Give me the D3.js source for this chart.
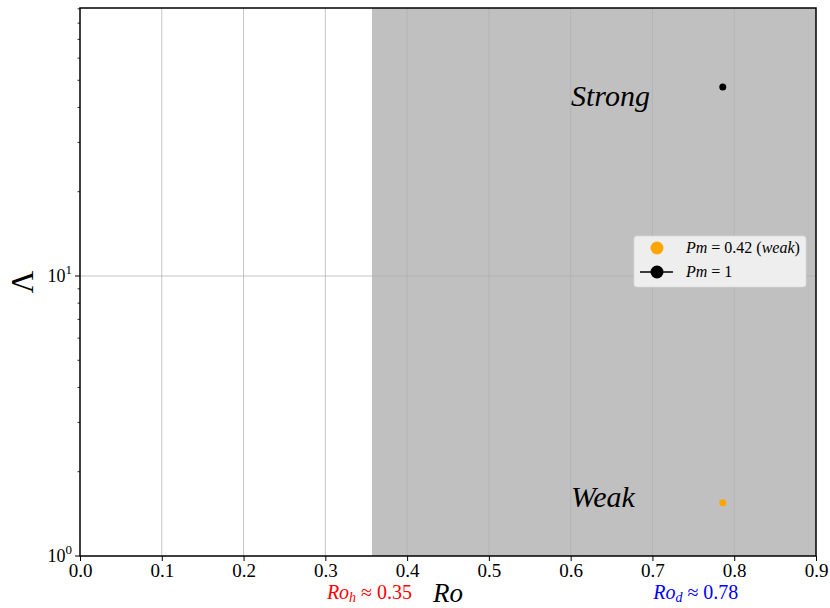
<!DOCTYPE html>
<html>
<head>
<meta charset="utf-8">
<script src="https://cdn.jsdelivr.net/npm/d3@7"></script>
<style>
  body { margin: 0; background: #fff; }
  text { font-family: "Liberation Serif", "DejaVu Serif", serif; }
</style>
</head>
<body>
<script>
// data
const xTicks = [0, 0.1, 0.2, 0.3, 0.4, 0.5, 0.6, 0.7, 0.8, 0.9];
const yMajor = [1, 10];
const yMinor = [2, 3, 4, 5, 6, 7, 8, 9, 20, 30, 40, 50, 60, 70, 80, 90];
const weakRo = [0.786];
const weakLambda = [1.55];
const strongRo = [0.786];
const strongLambda = [47.3];
const shadeFrom = [0.357];
const thresholdNames = ["h", "d"];
const thresholdValues = ["0.35", "0.78"];
const thresholdColors = ["red", "blue"];
const thresholdAt = [0.354, 0.753];

const w = 830, h = 608;
const m = {left: 80, right: 14, top: 8, bottom: 52};

const svg = d3.select("body").append("svg")
  .attr("width", w).attr("height", h);

const xScale = d3.scaleLinear().domain([0, 0.9]).range([m.left, w - m.right]);
const yScale = d3.scaleLog().domain([1, 90.6]).range([h - m.bottom, m.top]);

// shaded region
svg.append("rect")
  .attr("x", xScale(shadeFrom[0]))
  .attr("y", m.top)
  .attr("width", xScale(0.9) - xScale(shadeFrom[0]))
  .attr("height", yScale(1) - m.top)
  .attr("fill", "#c0c0c0");

// grid
svg.append("g").selectAll("line")
  .data(xTicks.slice(1, -1)).enter().append("line")
  .attr("x1", d => xScale(d)).attr("x2", d => xScale(d))
  .attr("y1", m.top).attr("y2", h - m.bottom)
  .attr("stroke", "#b0b0b0").attr("stroke-opacity", 0.8).attr("stroke-width", 0.9);
svg.append("g").selectAll("line")
  .data(yMajor.slice(1)).enter().append("line")
  .attr("x1", m.left).attr("x2", w - m.right)
  .attr("y1", d => yScale(d)).attr("y2", d => yScale(d))
  .attr("stroke", "#b0b0b0").attr("stroke-opacity", 0.8).attr("stroke-width", 0.9);

// axes
const xAxis = d3.axisBottom(xScale).tickValues(xTicks)
  .tickFormat(d3.format(".1f")).tickSize(5).tickPadding(3);
const gx = svg.append("g")
  .attr("transform", "translate(0," + (h - m.bottom) + ")")
  .call(xAxis);
gx.select(".domain").remove();
gx.selectAll("text").attr("font-size", 19).attr("fill", "#000")
  .attr("font-family", "Liberation Serif");
gx.selectAll("line").attr("stroke", "#000").attr("stroke-width", 1);

const gy = svg.append("g").attr("transform", "translate(" + m.left + ",0)");
gy.selectAll(".minor").data(yMinor).enter().append("line")
  .attr("x1", -2.5).attr("x2", 0)
  .attr("y1", d => yScale(d)).attr("y2", d => yScale(d))
  .attr("stroke", "#000").attr("stroke-width", 0.8);
gy.selectAll(".major").data(yMajor).enter().append("line")
  .attr("x1", -5).attr("x2", 0)
  .attr("y1", d => yScale(d)).attr("y2", d => yScale(d))
  .attr("stroke", "#000").attr("stroke-width", 1);
const yl = gy.selectAll(".lab").data(yMajor).enter().append("text")
  .attr("x", -8).attr("y", d => yScale(d) + 6)
  .attr("text-anchor", "end").attr("font-size", 18);
yl.append("tspan").text("10");
yl.append("tspan").attr("dy", -8).attr("font-size", 13)
  .text(d => Math.round(Math.log10(d)));

// frame
svg.append("rect")
  .attr("x", m.left).attr("y", m.top)
  .attr("width", xScale(0.9) - m.left).attr("height", yScale(1) - m.top)
  .attr("fill", "none").attr("stroke", "#000").attr("stroke-width", 1.5);

// points
svg.selectAll(".weak").data(weakRo).enter().append("circle")
  .attr("cx", d => xScale(d)).attr("cy", (d, i) => yScale(weakLambda[i]))
  .attr("r", 3.5).attr("fill", "orange");
svg.selectAll(".strong").data(strongRo).enter().append("circle")
  .attr("cx", d => xScale(d)).attr("cy", (d, i) => yScale(strongLambda[i]))
  .attr("r", 3.5).attr("fill", "#000");

// regime labels
svg.append("text").attr("x", 571).attr("y", 106)
  .attr("font-size", 30).attr("font-style", "italic").text("Strong");
svg.append("text").attr("x", 571).attr("y", 507)
  .attr("font-size", 30).attr("font-style", "italic").text("Weak");

// axis labels
svg.append("text")
  .attr("x", (m.left + xScale(0.9)) / 2).attr("y", 602)
  .attr("text-anchor", "middle").attr("font-size", 27).attr("font-style", "italic")
  .text("Ro");
svg.append("text")
  .attr("transform", "translate(33," + ((m.top + yScale(1)) / 2) + ") rotate(-90)")
  .attr("text-anchor", "middle").attr("font-size", 31)
  .text("Λ");

// threshold notes under the axis
thresholdNames.forEach(function(n, i){
  const t = svg.append("text")
    .attr("x", xScale(thresholdAt[i])).attr("y", 599)
    .attr("text-anchor", "middle").attr("font-size", 20)
    .attr("fill", thresholdColors[i]);
  t.append("tspan").attr("font-style", "italic").text("Ro");
  t.append("tspan").attr("font-style", "italic").attr("font-size", 14).attr("dy", 3).text(n);
  t.append("tspan").attr("dy", -3).text(" ≈ " + thresholdValues[i]);
});

// legend
const lg = svg.append("g").attr("transform", "translate(634,236)");
lg.append("rect").attr("width", 172).attr("height", 51).attr("rx", 3)
  .attr("fill", "#f0f0f0").attr("fill-opacity", 0.95)
  .attr("stroke", "#d8d8d8").attr("stroke-width", 0.8);
lg.append("circle").attr("cx", 23).attr("cy", 12).attr("r", 6.5).attr("fill", "orange");
lg.append("line").attr("x1", 6).attr("x2", 39).attr("y1", 36).attr("y2", 36)
  .attr("stroke", "#000").attr("stroke-width", 1.5);
lg.append("circle").attr("cx", 23).attr("cy", 36).attr("r", 6.5).attr("fill", "#000");
const t1 = lg.append("text").attr("x", 52).attr("y", 17).attr("font-size", 16);
t1.append("tspan").attr("font-style", "italic").text("Pm");
t1.append("tspan").text(" = 0.42 (");
t1.append("tspan").attr("font-style", "italic").text("weak");
t1.append("tspan").text(")");
const t2 = lg.append("text").attr("x", 52).attr("y", 41).attr("font-size", 16);
t2.append("tspan").attr("font-style", "italic").text("Pm");
t2.append("tspan").text(" = 1");
</script>
</body>
</html>
